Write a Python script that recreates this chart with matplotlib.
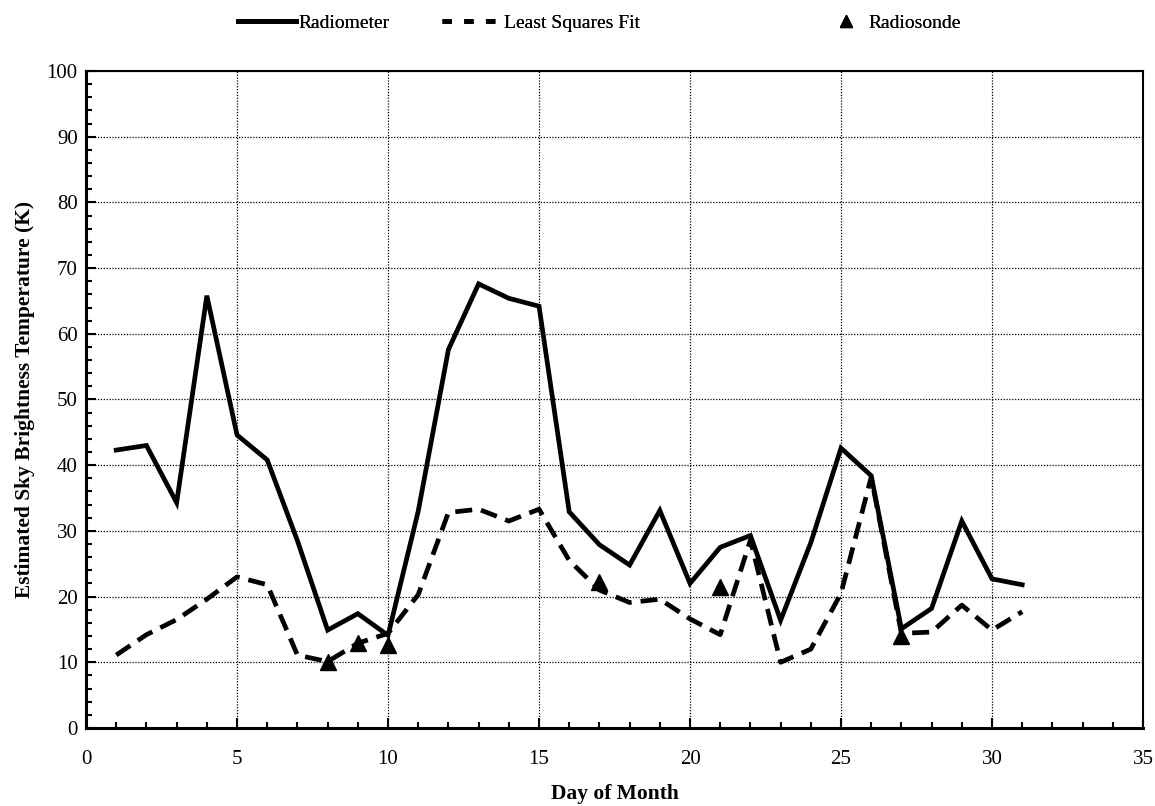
import matplotlib
matplotlib.use("Agg")
import matplotlib.pyplot as plt
from matplotlib.ticker import MultipleLocator
from matplotlib.lines import Line2D

plt.rcParams['font.family'] = ['Liberation Serif', 'DejaVu Serif']

days = list(range(1, 32))
radiometer = [42.3, 43.0, 34.3, 65.8, 44.6, 40.8, 28.5, 14.9, 17.4, 14.1,
              33.0, 57.6, 67.6, 65.4, 64.2, 32.9, 27.9, 24.8, 33.1, 22.0,
              27.5, 29.3, 16.4, 28.2, 42.6, 38.4, 15.1, 18.2, 31.5, 22.7, 21.8]
lsq_fit = [11.1, 14.2, 16.5, 19.6, 23.0, 21.8, 11.1, 10.1, 12.9, 14.4,
           20.3, 32.8, 33.3, 31.5, 33.3, 25.5, 21.0, 19.1, 19.6, 16.6,
           14.2, 28.6, 10.0, 12.0, 20.5, 38.2, 14.4, 14.6, 18.7, 14.9, 17.7]
sonde_days = [8, 9, 10, 17, 21, 27]
sonde_vals = [10.0, 12.9, 12.7, 22.2, 21.4, 14.0]

LW = 3.4
DASH = (0, (3.6, 1.9))

fig = plt.figure(figsize=(11.55, 8.06), dpi=100)
ax = fig.add_axes([0.0745, 0.0968, 0.9151, 0.8151])

ax.plot(days, radiometer, color='black', lw=LW, solid_joinstyle='miter')
ax.plot(days, lsq_fit, color='black', lw=LW, linestyle=DASH)
ax.plot(sonde_days, sonde_vals, linestyle='none', marker='^', color='black', ms=12)

ax.set_xlim(0, 35)
ax.set_ylim(0, 100)
ax.xaxis.set_major_locator(MultipleLocator(5))
ax.xaxis.set_minor_locator(MultipleLocator(1))
ax.yaxis.set_major_locator(MultipleLocator(10))
ax.yaxis.set_minor_locator(MultipleLocator(2))
ax.tick_params(which='both', direction='in', top=False, right=False, width=1.5, color='black')
ax.tick_params(which='major', length=7, labelsize=15)
ax.tick_params(axis='x', which='major', pad=16)
ax.tick_params(axis='y', which='major', pad=6)
ax.tick_params(which='minor', length=4)
ax.grid(True, which='major', color='black', linestyle=(0, (1, 1.3)), lw=0.9)
for s in ['left', 'bottom']:
    ax.spines[s].set_linewidth(2.2)
for s in ['right', 'top']:
    ax.spines[s].set_linewidth(1.5)

ax.set_xlabel('Day of Month', fontsize=15.5, fontweight='bold', labelpad=11)
ax.set_ylabel('Estimated Sky Brightness Temperature (K)', fontsize=15.5, fontweight='bold', labelpad=8)

legend_items = [
    (Line2D([], [], color='black', lw=LW), 'Radiometer', 238, 3.0, 0.1),
    (Line2D([], [], color='black', lw=LW, linestyle=(0, (2.0, 2.6))), 'Least Squares Fit', 442, 3.1, 0.1),
    (Line2D([], [], color='black', linestyle='none', marker='^', ms=9), 'Radiosonde', 831, 1.5, 0.4),
]
for handle, label, xpix, hl, htp in legend_items:
    leg = fig.legend([handle], [label], loc='center left',
                     bbox_to_anchor=(xpix / 1155.0, 1 - 23 / 806.0),
                     frameon=False, fontsize=14, handlelength=hl,
                     handletextpad=htp, borderpad=0, borderaxespad=0)
    fig.add_artist(leg)

fig.savefig('out.png', dpi=100)
